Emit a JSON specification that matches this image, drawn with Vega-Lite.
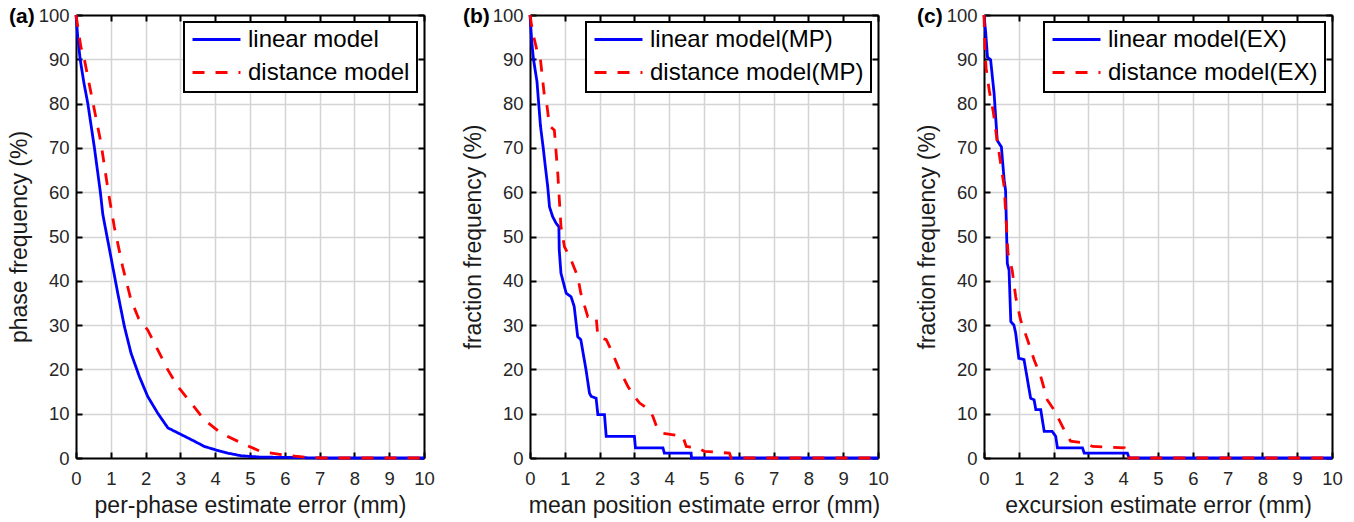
{
"$schema":"https://vega.github.io/schema/vega-lite/v6.json",
"background":"white",
"padding":{"left":8,"top":6,"right":5,"bottom":5},
"datasets":{
"a":[
{"s":"linear model","x":0,"y":100},{"s":"linear model","x":0.05,"y":95},{"s":"linear model","x":0.12,"y":90},{"s":"linear model","x":0.22,"y":85},{"s":"linear model","x":0.34,"y":80},{"s":"linear model","x":0.53,"y":70},{"s":"linear model","x":0.7,"y":60},{"s":"linear model","x":0.77,"y":55},{"s":"linear model","x":1.0,"y":45.5},{"s":"linear model","x":1.2,"y":37.2},{"s":"linear model","x":1.39,"y":29.7},{"s":"linear model","x":1.58,"y":23.7},{"s":"linear model","x":1.82,"y":18.4},{"s":"linear model","x":2.06,"y":13.9},{"s":"linear model","x":2.35,"y":10.1},{"s":"linear model","x":2.64,"y":6.8},{"s":"linear model","x":3.02,"y":5.3},{"s":"linear model","x":3.4,"y":3.8},{"s":"linear model","x":3.69,"y":2.6},{"s":"linear model","x":4.07,"y":1.7},{"s":"linear model","x":4.36,"y":1.1},{"s":"linear model","x":4.75,"y":0.5},{"s":"linear model","x":5.3,"y":0.2},{"s":"linear model","x":6.3,"y":0.1},{"s":"linear model","x":7.0,"y":0},{"s":"linear model","x":10,"y":0},
{"s":"distance model","x":0,"y":100},{"s":"distance model","x":0.14,"y":92.8},{"s":"distance model","x":0.24,"y":90},{"s":"distance model","x":0.34,"y":86},{"s":"distance model","x":0.53,"y":78.5},{"s":"distance model","x":0.72,"y":71},{"s":"distance model","x":0.93,"y":60},{"s":"distance model","x":1.1,"y":52.2},{"s":"distance model","x":1.34,"y":43.2},{"s":"distance model","x":1.58,"y":35.7},{"s":"distance model","x":1.8,"y":31.5},{"s":"distance model","x":2.06,"y":28.9},{"s":"distance model","x":2.35,"y":24.4},{"s":"distance model","x":2.64,"y":19.9},{"s":"distance model","x":2.92,"y":16.2},{"s":"distance model","x":3.31,"y":12.4},{"s":"distance model","x":3.69,"y":8.6},{"s":"distance model","x":4.17,"y":5.6},{"s":"distance model","x":4.75,"y":3.4},{"s":"distance model","x":5.3,"y":1.5},{"s":"distance model","x":5.9,"y":0.75},{"s":"distance model","x":6.3,"y":0.4},{"s":"distance model","x":6.66,"y":0.15},{"s":"distance model","x":7.05,"y":0},{"s":"distance model","x":10,"y":0}
],
"b":[
{"s":"linear model(MP)","x":0,"y":100},{"s":"linear model(MP)","x":0.05,"y":94},{"s":"linear model(MP)","x":0.1,"y":90},{"s":"linear model(MP)","x":0.2,"y":85},{"s":"linear model(MP)","x":0.25,"y":80},{"s":"linear model(MP)","x":0.3,"y":75},{"s":"linear model(MP)","x":0.38,"y":70},{"s":"linear model(MP)","x":0.43,"y":66.5},{"s":"linear model(MP)","x":0.51,"y":61.2},{"s":"linear model(MP)","x":0.56,"y":56.7},{"s":"linear model(MP)","x":0.65,"y":54.5},{"s":"linear model(MP)","x":0.75,"y":53},{"s":"linear model(MP)","x":0.83,"y":52.2},{"s":"linear model(MP)","x":0.84,"y":47},{"s":"linear model(MP)","x":0.89,"y":41.7},{"s":"linear model(MP)","x":1.04,"y":37.2},{"s":"linear model(MP)","x":1.18,"y":36.4},{"s":"linear model(MP)","x":1.27,"y":34.2},{"s":"linear model(MP)","x":1.37,"y":27.4},{"s":"linear model(MP)","x":1.46,"y":26.7},{"s":"linear model(MP)","x":1.61,"y":19.9},{"s":"linear model(MP)","x":1.71,"y":14.6},{"s":"linear model(MP)","x":1.76,"y":13.9},{"s":"linear model(MP)","x":1.9,"y":13.5},{"s":"linear model(MP)","x":1.95,"y":9.8},{"s":"linear model(MP)","x":2.14,"y":9.8},{"s":"linear model(MP)","x":2.19,"y":4.9},{"s":"linear model(MP)","x":3.0,"y":4.9},{"s":"linear model(MP)","x":3.03,"y":2.3},{"s":"linear model(MP)","x":3.82,"y":2.3},{"s":"linear model(MP)","x":3.86,"y":1.1},{"s":"linear model(MP)","x":4.63,"y":1.1},{"s":"linear model(MP)","x":4.64,"y":0},{"s":"linear model(MP)","x":10,"y":0},
{"s":"distance model(MP)","x":0,"y":100},{"s":"distance model(MP)","x":0.08,"y":96},{"s":"distance model(MP)","x":0.2,"y":92},{"s":"distance model(MP)","x":0.3,"y":90},{"s":"distance model(MP)","x":0.41,"y":82},{"s":"distance model(MP)","x":0.48,"y":80},{"s":"distance model(MP)","x":0.56,"y":75},{"s":"distance model(MP)","x":0.7,"y":74},{"s":"distance model(MP)","x":0.8,"y":64},{"s":"distance model(MP)","x":0.89,"y":52.2},{"s":"distance model(MP)","x":0.99,"y":47.7},{"s":"distance model(MP)","x":1.18,"y":44.7},{"s":"distance model(MP)","x":1.37,"y":41},{"s":"distance model(MP)","x":1.46,"y":37.2},{"s":"distance model(MP)","x":1.66,"y":31.9},{"s":"distance model(MP)","x":1.9,"y":31.9},{"s":"distance model(MP)","x":1.95,"y":27.4},{"s":"distance model(MP)","x":2.19,"y":26.7},{"s":"distance model(MP)","x":2.33,"y":24.4},{"s":"distance model(MP)","x":2.57,"y":19.9},{"s":"distance model(MP)","x":2.81,"y":16.2},{"s":"distance model(MP)","x":3.0,"y":13.9},{"s":"distance model(MP)","x":3.15,"y":12.4},{"s":"distance model(MP)","x":3.43,"y":10.9},{"s":"distance model(MP)","x":3.53,"y":9.4},{"s":"distance model(MP)","x":3.67,"y":6.4},{"s":"distance model(MP)","x":3.82,"y":5.6},{"s":"distance model(MP)","x":4.39,"y":4.9},{"s":"distance model(MP)","x":4.49,"y":2.6},{"s":"distance model(MP)","x":4.82,"y":2.3},{"s":"distance model(MP)","x":5.01,"y":1.5},{"s":"distance model(MP)","x":5.73,"y":1.1},{"s":"distance model(MP)","x":5.78,"y":0},{"s":"distance model(MP)","x":10,"y":0}
],
"c":[
{"s":"linear model(EX)","x":0,"y":100},{"s":"linear model(EX)","x":0.05,"y":95.9},{"s":"linear model(EX)","x":0.1,"y":90.5},{"s":"linear model(EX)","x":0.19,"y":89.9},{"s":"linear model(EX)","x":0.29,"y":82.3},{"s":"linear model(EX)","x":0.38,"y":71.7},{"s":"linear model(EX)","x":0.5,"y":70.2},{"s":"linear model(EX)","x":0.58,"y":62.7},{"s":"linear model(EX)","x":0.62,"y":60.4},{"s":"linear model(EX)","x":0.67,"y":43.9},{"s":"linear model(EX)","x":0.72,"y":42.4},{"s":"linear model(EX)","x":0.77,"y":30.8},{"s":"linear model(EX)","x":0.86,"y":30},{"s":"linear model(EX)","x":0.91,"y":28.2},{"s":"linear model(EX)","x":1.0,"y":22.5},{"s":"linear model(EX)","x":1.15,"y":22.2},{"s":"linear model(EX)","x":1.2,"y":19.9},{"s":"linear model(EX)","x":1.34,"y":13.5},{"s":"linear model(EX)","x":1.44,"y":13.1},{"s":"linear model(EX)","x":1.49,"y":10.9},{"s":"linear model(EX)","x":1.63,"y":10.9},{"s":"linear model(EX)","x":1.73,"y":6},{"s":"linear model(EX)","x":1.96,"y":6},{"s":"linear model(EX)","x":2.06,"y":4.9},{"s":"linear model(EX)","x":2.11,"y":2.3},{"s":"linear model(EX)","x":2.83,"y":2.3},{"s":"linear model(EX)","x":2.88,"y":1.1},{"s":"linear model(EX)","x":4.12,"y":1.1},{"s":"linear model(EX)","x":4.17,"y":0},{"s":"linear model(EX)","x":10,"y":0},
{"s":"distance model(EX)","x":0,"y":100},{"s":"distance model(EX)","x":0.03,"y":92},{"s":"distance model(EX)","x":0.06,"y":88},{"s":"distance model(EX)","x":0.15,"y":83},{"s":"distance model(EX)","x":0.27,"y":78},{"s":"distance model(EX)","x":0.37,"y":72},{"s":"distance model(EX)","x":0.45,"y":68},{"s":"distance model(EX)","x":0.58,"y":61.2},{"s":"distance model(EX)","x":0.69,"y":46.2},{"s":"distance model(EX)","x":0.81,"y":42.4},{"s":"distance model(EX)","x":0.91,"y":36.4},{"s":"distance model(EX)","x":1.05,"y":31.2},{"s":"distance model(EX)","x":1.25,"y":26.7},{"s":"distance model(EX)","x":1.44,"y":22.2},{"s":"distance model(EX)","x":1.63,"y":18.4},{"s":"distance model(EX)","x":1.82,"y":13.1},{"s":"distance model(EX)","x":2.01,"y":10.9},{"s":"distance model(EX)","x":2.16,"y":8.6},{"s":"distance model(EX)","x":2.35,"y":5.6},{"s":"distance model(EX)","x":2.49,"y":3.8},{"s":"distance model(EX)","x":2.88,"y":3.4},{"s":"distance model(EX)","x":3.12,"y":2.6},{"s":"distance model(EX)","x":4.03,"y":2.3},{"s":"distance model(EX)","x":4.07,"y":0},{"s":"distance model(EX)","x":10,"y":0}
]
},
"spacing":106,
"bounds":"flush",
"hconcat":[
{
"width":348,"height":443,
"title":{"text":"(a)"},
"data":{"name":"a"},
"layer":[
{"transform":[{"filter":"datum.s==='linear model'"}],
"mark":{"type":"line","strokeWidth":2.8},
"encoding":{
"x":{"field":"x","type":"quantitative","scale":{"domain":[0,10],"nice":false},"axis":{"title":"per-phase estimate error (mm)","values":[0,1,2,3,4,5,6,7,8,9,10]}},
"y":{"field":"y","type":"quantitative","scale":{"domain":[0,100],"nice":false},"axis":{"title":"phase frequency (%)","values":[0,10,20,30,40,50,60,70,80,90,100]}},
"color":{"field":"s","type":"nominal","scale":{"domain":["linear model","distance model"],"range":["#0000ff","#ff0000"]},"legend":{"title":null}},
"strokeDash":{"field":"s","type":"nominal","scale":{"domain":["linear model","distance model"],"range":[[1,0],[12,11]]},"legend":{"title":null}},
"order":{"value":null}}},
{"transform":[{"filter":"datum.s==='distance model'"}],
"mark":{"type":"line","strokeWidth":2.8},
"encoding":{
"x":{"field":"x","type":"quantitative","axis":null},
"y":{"field":"y","type":"quantitative","axis":null},
"color":{"field":"s","type":"nominal","legend":{"title":null}},
"strokeDash":{"field":"s","type":"nominal","legend":{"title":null}},
"order":{"value":null}}},
{"mark":{"type":"point","opacity":0},
"encoding":{
"x":{"field":"x","type":"quantitative","axis":{"orient":"top","labels":false,"title":null,"grid":false,"values":[0,1,2,3,4,5,6,7,8,9,10]}},
"y":{"field":"y","type":"quantitative","axis":{"orient":"right","labels":false,"title":null,"grid":false,"values":[0,10,20,30,40,50,60,70,80,90,100]}}}}
],
"resolve":{"axis":{"x":"independent","y":"independent"}}
},
{
"width":348,"height":443,
"title":{"text":"(b)"},
"data":{"name":"b"},
"layer":[
{"transform":[{"filter":"datum.s==='linear model(MP)'"}],
"mark":{"type":"line","strokeWidth":2.8},
"encoding":{
"x":{"field":"x","type":"quantitative","scale":{"domain":[0,10],"nice":false},"axis":{"title":"mean position estimate error (mm)","values":[0,1,2,3,4,5,6,7,8,9,10]}},
"y":{"field":"y","type":"quantitative","scale":{"domain":[0,100],"nice":false},"axis":{"title":"fraction frequency (%)","values":[0,10,20,30,40,50,60,70,80,90,100]}},
"color":{"field":"s","type":"nominal","scale":{"domain":["linear model(MP)","distance model(MP)"],"range":["#0000ff","#ff0000"]},"legend":{"title":null}},
"strokeDash":{"field":"s","type":"nominal","scale":{"domain":["linear model(MP)","distance model(MP)"],"range":[[1,0],[12,11]]},"legend":{"title":null}},
"order":{"value":null}}},
{"transform":[{"filter":"datum.s==='distance model(MP)'"}],
"mark":{"type":"line","strokeWidth":2.8},
"encoding":{
"x":{"field":"x","type":"quantitative","axis":null},
"y":{"field":"y","type":"quantitative","axis":null},
"color":{"field":"s","type":"nominal","legend":{"title":null}},
"strokeDash":{"field":"s","type":"nominal","legend":{"title":null}},
"order":{"value":null}}},
{"mark":{"type":"point","opacity":0},
"encoding":{
"x":{"field":"x","type":"quantitative","axis":{"orient":"top","labels":false,"title":null,"grid":false,"values":[0,1,2,3,4,5,6,7,8,9,10]}},
"y":{"field":"y","type":"quantitative","axis":{"orient":"right","labels":false,"title":null,"grid":false,"values":[0,10,20,30,40,50,60,70,80,90,100]}}}}
],
"resolve":{"axis":{"x":"independent","y":"independent"}}
},
{
"width":348,"height":443,
"title":{"text":"(c)"},
"data":{"name":"c"},
"layer":[
{"transform":[{"filter":"datum.s==='linear model(EX)'"}],
"mark":{"type":"line","strokeWidth":2.8},
"encoding":{
"x":{"field":"x","type":"quantitative","scale":{"domain":[0,10],"nice":false},"axis":{"title":"excursion estimate error (mm)","values":[0,1,2,3,4,5,6,7,8,9,10]}},
"y":{"field":"y","type":"quantitative","scale":{"domain":[0,100],"nice":false},"axis":{"title":"fraction frequency (%)","values":[0,10,20,30,40,50,60,70,80,90,100]}},
"color":{"field":"s","type":"nominal","scale":{"domain":["linear model(EX)","distance model(EX)"],"range":["#0000ff","#ff0000"]},"legend":{"title":null}},
"strokeDash":{"field":"s","type":"nominal","scale":{"domain":["linear model(EX)","distance model(EX)"],"range":[[1,0],[12,11]]},"legend":{"title":null}},
"order":{"value":null}}},
{"transform":[{"filter":"datum.s==='distance model(EX)'"}],
"mark":{"type":"line","strokeWidth":2.8},
"encoding":{
"x":{"field":"x","type":"quantitative","axis":null},
"y":{"field":"y","type":"quantitative","axis":null},
"color":{"field":"s","type":"nominal","legend":{"title":null}},
"strokeDash":{"field":"s","type":"nominal","legend":{"title":null}},
"order":{"value":null}}},
{"mark":{"type":"point","opacity":0},
"encoding":{
"x":{"field":"x","type":"quantitative","axis":{"orient":"top","labels":false,"title":null,"grid":false,"values":[0,1,2,3,4,5,6,7,8,9,10]}},
"y":{"field":"y","type":"quantitative","axis":{"orient":"right","labels":false,"title":null,"grid":false,"values":[0,10,20,30,40,50,60,70,80,90,100]}}}}
],
"resolve":{"axis":{"x":"independent","y":"independent"}}
}
],
"resolve":{"scale":{"color":"independent","strokeDash":"independent"},"legend":{"color":"independent","strokeDash":"independent"}},
"config":{
"view":{"stroke":null},
"font":"Liberation Sans",
"axis":{"domainColor":"#000","domainWidth":2,"tickColor":"#000","tickWidth":2,"tickSize":-6,"gridColor":"#d4d4d4","gridWidth":1.5,"gridOpacity":1,"labelFont":"Liberation Sans","labelFontSize":18.5,"labelColor":"#262626","titleFont":"Liberation Sans","titleFontSize":23,"titleFontWeight":"normal","titleColor":"#1a1a1a","labelFlush":false,"labelOverlap":false},
"axisX":{"labelPadding":17,"titlePadding":7},
"axisY":{"labelPadding":13,"titlePadding":7},
"legend":{"orient":"top-right","offset":7,"labelFont":"Liberation Sans","labelFontSize":24,"labelColor":"#000","labelLimit":400,"symbolType":"stroke","symbolSize":2300,"symbolStrokeWidth":2.8,"clipHeight":21,"fillColor":"#fff","strokeColor":"#000","strokeWidth":2,"padding":7,"rowPadding":8,"labelOffset":6},
"title":{"font":"Liberation Sans","fontSize":21,"fontWeight":"bold","color":"#000","anchor":"start","frame":"group","dx":-67,"offset":-21,"baseline":"middle"}
}
}
